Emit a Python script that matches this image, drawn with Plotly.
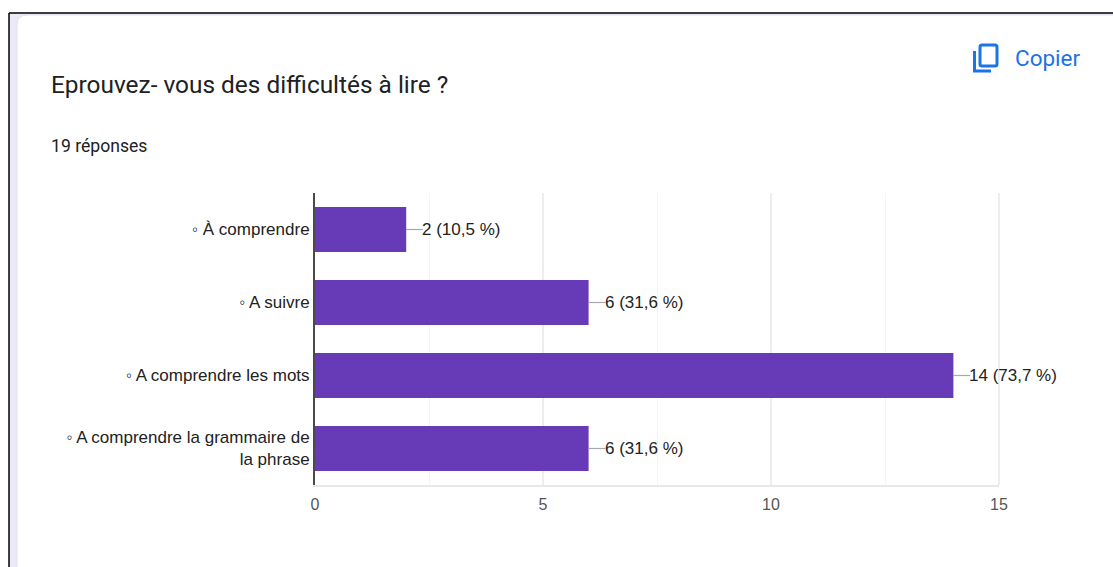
import plotly.graph_objects as go

categories = ["◦ À comprendre", "◦ A suivre", "◦ A comprendre les mots",
              "◦ A comprendre la grammaire de<br>la phrase"]
counts = [2, 6, 14, 6]
percents = ["10,5", "31,6", "73,7", "31,6"]
labels = [f"{c} ({p} %)" for c, p in zip(counts, percents)]
x_ticks = [0, 5, 10, 15]
leader = [0.37, 0.37, 0.37, 0.37]
title = "Eprouvez- vous des difficultés à lire ?"
subtitle = "19 réponses"
copy_label = "Copier"

W, H = 1113, 567
L, R, T, B = 315, 999, 193, 485
BAR = "#673ab7"
INK = "#202124"
BLUE = "#1a73e8"


def px(x):
    return (x - L) / (R - L)


def py(y):
    return (B - y) / (B - T)


fig = go.Figure()
fig.add_trace(go.Bar(
    x=counts, y=categories, orientation="h",
    marker=dict(color=BAR, line=dict(width=0)),
    hoverinfo="skip", showlegend=False,
))
fig.add_trace(go.Scatter(
    x=counts, y=categories, mode="markers",
    marker=dict(size=1, opacity=0),
    error_x=dict(type="data", array=leader, arrayminus=[0] * 4, symmetric=False,
                 color="#a8a8a8", thickness=1.2, width=0),
    hoverinfo="skip", showlegend=False,
))

annotations = []
for c, cat, lab in zip(counts, categories, labels):
    annotations.append(dict(x=c, y=cat, xref="x", yref="y", text=lab, showarrow=False,
                            xanchor="left", yanchor="middle", xshift=14,
                            font=dict(family="Liberation Sans", size=17, color="#222222")))


def note(text, x, y, size, color, family="Roboto"):
    annotations.append(dict(x=px(x), y=py(y), xref="paper", yref="paper", text=text,
                            showarrow=False, xanchor="left", yanchor="middle",
                            font=dict(family=family, size=size, color=color)))


note(title, 49, 84.5, 24.4, INK)
note(subtitle, 49, 146, 17.6, INK)
note(copy_label, 1013, 58, 22.5, BLUE)


def rect_path(x0, y0, x1, y1, r):
    a, b, c, d = px(x0), px(x1), py(y0), py(y1)
    rx, ry = r / (R - L), r / (B - T)
    return (f"M {a + rx} {c} L {b - rx} {c} Q {b} {c} {b} {c - ry} L {b} {d + ry} "
            f"Q {b} {d} {b - rx} {d} L {a + rx} {d} Q {a} {d} {a} {d + ry} "
            f"L {a} {c - ry} Q {a} {c} {a + rx} {c} Z")


shapes = [
    # page frame and card
    dict(type="rect", layer="below", xref="paper", yref="paper", x0=px(9), x1=px(1113), y0=py(13), y1=py(567),
         fillcolor="#ece8f5", line=dict(width=0)),
    dict(type="path", layer="below", xref="paper", yref="paper",
         path=rect_path(17, 15, 1140, 600, 10), fillcolor="#ffffff", line=dict(color="#dfe3e6", width=1)),
    dict(type="line", layer="below", xref="paper", yref="paper", x0=px(9), x1=px(1113), y0=py(13), y1=py(13),
         line=dict(color="#000000", width=1.5)),
    dict(type="line", layer="below", xref="paper", yref="paper", x0=px(9), x1=px(9), y0=py(13), y1=py(567),
         line=dict(color="#000000", width=1.5)),
    # right edge of the plot grid
    dict(type="line", layer="below", xref="paper", yref="paper", x0=1, x1=1, y0=0, y1=1,
         line=dict(color="#eeeeee", width=2)),
    # copy icon
    dict(type="path", xref="paper", yref="paper", path=rect_path(980, 45, 997, 66, 2),
         line=dict(color=BLUE, width=3)),
    dict(type="path", xref="paper", yref="paper",
         path=f"M {px(974.5)} {py(51)} L {px(974.5)} {py(71)} L {px(991)} {py(71)}",
         line=dict(color=BLUE, width=3)),
]

fig.update_layout(
    width=W, height=H, autosize=False,
    margin=dict(l=L, r=W - R, t=T, b=H - B),
    paper_bgcolor="#ffffff", plot_bgcolor="#ffffff",
    bargap=0.384, showlegend=False,
    annotations=annotations, shapes=shapes,
    xaxis=dict(range=[0, 15], tickvals=x_ticks, showgrid=True, gridcolor="#eeeeee", gridwidth=1.5,
               zeroline=False, showline=True, linecolor="#e8e8e8", linewidth=2,
               minor=dict(dtick=2.5, showgrid=True, gridcolor="#f4f4f4", gridwidth=1),
               ticks="", ticklabelstandoff=4,
               tickfont=dict(family="Liberation Sans", size=16, color="#555555")),
    yaxis=dict(autorange="reversed", categoryorder="array", categoryarray=categories,
               showgrid=False, zeroline=False, showline=True, linecolor="#4a4a4a", linewidth=2,
               ticks="", ticklabelstandoff=0,
               tickfont=dict(family="Liberation Sans", size=17, color="#222222")),
)

fig.write_html("out.html", config=dict(displayModeBar=False),
               post_script="document.body.style.margin='0';document.documentElement.style.overflow='hidden';")
